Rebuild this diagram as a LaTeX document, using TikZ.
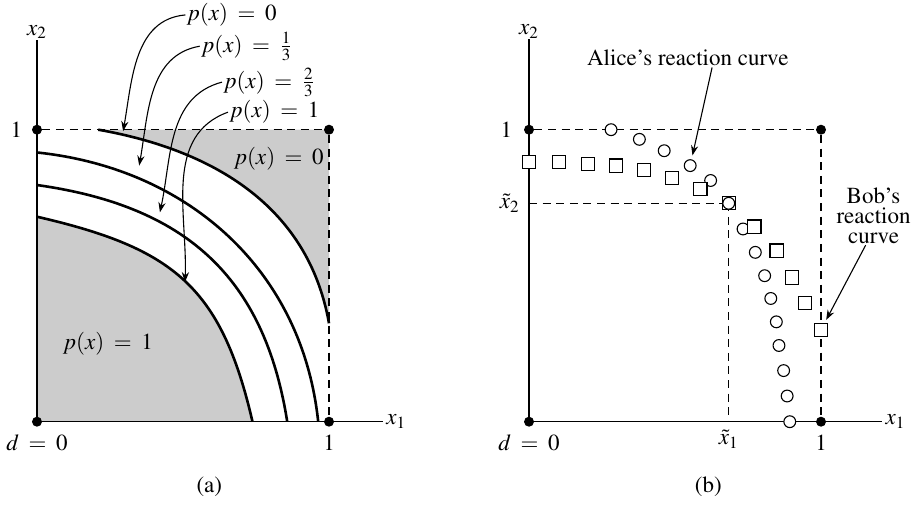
\documentclass[tikz,border=0pt]{standalone}
\usepackage[T1]{fontenc}
\usepackage{mathptmx}
\usepackage{tikz}
\usetikzlibrary{positioning, arrows.meta, calc}
\definecolor{regiongray}{HTML}{CCCCCC}
\thickmuskip=7.5mu plus 2mu\relax

\begin{document}
\begin{tikzpicture}[
  x=146pt, y=146pt,
  font=\fontsize{11.5}{10}\selectfont,
  axisLine/.style={line width=0.6pt},
  guideLine/.style={line width=0.6pt, dash pattern=on 4pt off 2.8pt},
  curveLine/.style={line width=1.3pt},
  dotNode/.style={circle, fill=black, inner sep=0pt, minimum size=5pt},
  alicePt/.style={circle, draw, fill=white, line width=0.55pt, inner sep=0pt, minimum size=5.9pt},
  bobPt/.style={rectangle, draw, fill=white, line width=0.55pt, inner sep=0pt, minimum size=6.6pt},
  arrow/.style={-{Stealth[length=5pt, width=3.6pt]}, line width=0.55pt},
  lbl/.style={inner sep=0.5pt}
]
\useasboundingbox (-0.1267,-0.2853) rectangle (3.0342,1.4442);

% Panel (a): shaded regions and boundaries
\fill[regiongray] (0,0) -- (0,0.702) to[out=-13, in=103, looseness=1.2] (0.738,0) -- cycle;
\fill[regiongray] (0.21,1) to[out=-10, in=100] (1,0.337) -- (1,1) -- cycle;

\draw[curveLine] (0.21,1) to[out=-10, in=100] (1,0.337);
\draw[curveLine] (0,0.922) to[out=-6, in=96] (0.963,0);
\draw[curveLine] (0,0.8105) to[out=-8, in=99, looseness=1.1] (0.857,0);
\draw[curveLine] (0,0.702) to[out=-13, in=103, looseness=1.2] (0.738,0);

% Panel (a): axes and corners
\node[dotNode] (aO) at (0,0) {};
\node[dotNode] (a01) at (0,1) {};
\node[dotNode] (a11) at (1,1) {};
\node[dotNode] (a10) at (1,0) {};
\coordinate (aX) at (1.185,0);
\coordinate (aY) at (0,1.307);

\draw[axisLine] (aO.center) -- (aX);
\draw[axisLine] (aO.center) -- (aY);
\draw[guideLine] (a01) -- (a11);
\draw[guideLine] (a11) -- (a10);

\node[lbl, anchor=west] (ax1) at ([xshift=1pt]aX) {$x_1$};
\node[lbl, above] (ax2) at (aY) {$x_2$};
\node[lbl, left=4pt of a01] (aone2) {1};
\node[lbl, below=3pt of a10] (aone1) {1};
\node[lbl, below=3pt of aO] (azero) {$d = 0$};
\node[lbl] (capA) at (0.59,-0.2226) {(a)};

% Panel (a): region labels
\node[lbl] (regTop) at (0.828,0.902) {$p(x) = 0$};
\node[lbl] (regLow) at (0.243,0.268) {$p(x) = 1$};

\node[lbl, anchor=west] (lp0) at (0.508,1.393) {$p(x) = 0$};
\node[lbl, anchor=west] (lp1) at (0.5572,1.286) {$p(x) = \frac{1}{3}$};
\node[lbl, anchor=west] (lp2) at (0.6336,1.163) {$p(x) = \frac{2}{3}$};
\node[lbl, anchor=west] (lp3) at (0.654,1.060) {$p(x) = 1$};

\coordinate (t0) at (0.295,0.995);
\coordinate (t1) at (0.350,0.877);
\coordinate (t2) at (0.421,0.717);
\coordinate (t3) at (0.507,0.478);

\draw[arrow] (lp0.west) to[out=185, in=80] (t0);
\draw[arrow] (lp1.west) to[out=190, in=80] (t1);
\draw[arrow] (lp2.west) to[out=195, in=78] (t2);
\draw[arrow] (lp3.west) to[out=200, in=88] (t3);

% Panel (b): reaction curves
\begin{scope}[xshift=246pt]
  \node[dotNode] (bO) at (0,0) {};
  \node[dotNode] (b01) at (0,1) {};
  \node[dotNode] (b11) at (1,1) {};
  \node[dotNode] (b10) at (1,0) {};
  \coordinate (bX) at (1.21,0);
  \coordinate (bY) at (0,1.309);
  \coordinate (eqPt) at (0.684,0.748);
  \coordinate (bx1) at (0.684,0);
  \coordinate (bx2) at (0,0.748);

  \draw[axisLine] (bO.center) -- (bX);
  \draw[axisLine] (bO.center) -- (bY);
  \draw[guideLine] (b01) -- (b11);
  \draw[guideLine] (b11) -- (b10);
  \draw[guideLine] (bx2) -- (eqPt);
  \draw[guideLine] (eqPt) -- (bx1);

  % Alice's points
  \foreach \x/\y [count=\i] in {0.281/1.0, 0.378/0.967, 0.463/0.928, 0.552/0.877,
      0.622/0.826, 0.733/0.660, 0.775/0.580, 0.807/0.500, 0.828/0.422,
      0.847/0.342, 0.856/0.261, 0.872/0.175, 0.884/0.088, 0.893/0.0}
    \node[alicePt] (al\i) at (\x,\y) {};

  % Bob's points
  \foreach \x/\y [count=\i] in {0/0.890, 0.103/0.890, 0.202/0.883, 0.297/0.877,
      0.394/0.861, 0.489/0.835, 0.587/0.798, 0.772/0.668, 0.848/0.586,
      0.900/0.494, 0.946/0.407, 1.0/0.315}
    \node[bobPt] (bo\i) at (\x,\y) {};

  \node[bobPt] (eqSq) at (eqPt) {};
  \node[alicePt] (eqCi) at (eqPt) {};

  \node[lbl, anchor=west] (bx1lbl) at ([xshift=1pt]bX) {$x_1$};
  \node[lbl, above] (bx2lbl) at (bY) {$x_2$};
  \node[lbl, left=5pt of b01] (bone2) {1};
  \node[lbl, below=3pt of b10] (bone1) {1};
  \node[lbl, below=3pt of bO] (bzero) {$d = 0$};
  \node[lbl, left=4pt of bx2] (bt2) {$\tilde{x}_2$};
  \node[lbl, below=3.5pt of bx1] (bt1) {$\tilde{x}_1$};
  \node[lbl] (capB) at (0.614,-0.2226) {(b)};

  \node[lbl] (alice) at (0.544,1.245) {Alice's reaction curve};
  \node[lbl, align=center] (bob) at (1.18,0.705) {Bob's\\reaction\\curve};

  \draw[arrow, shorten >=2pt] ($(alice.south)+(0.083,0)$) -- (al4);
  \draw[arrow, shorten >=1.5pt] ($(bob.south)+(-0.027,0)$) -- (bo12);
\end{scope}

\end{tikzpicture}
\end{document}
